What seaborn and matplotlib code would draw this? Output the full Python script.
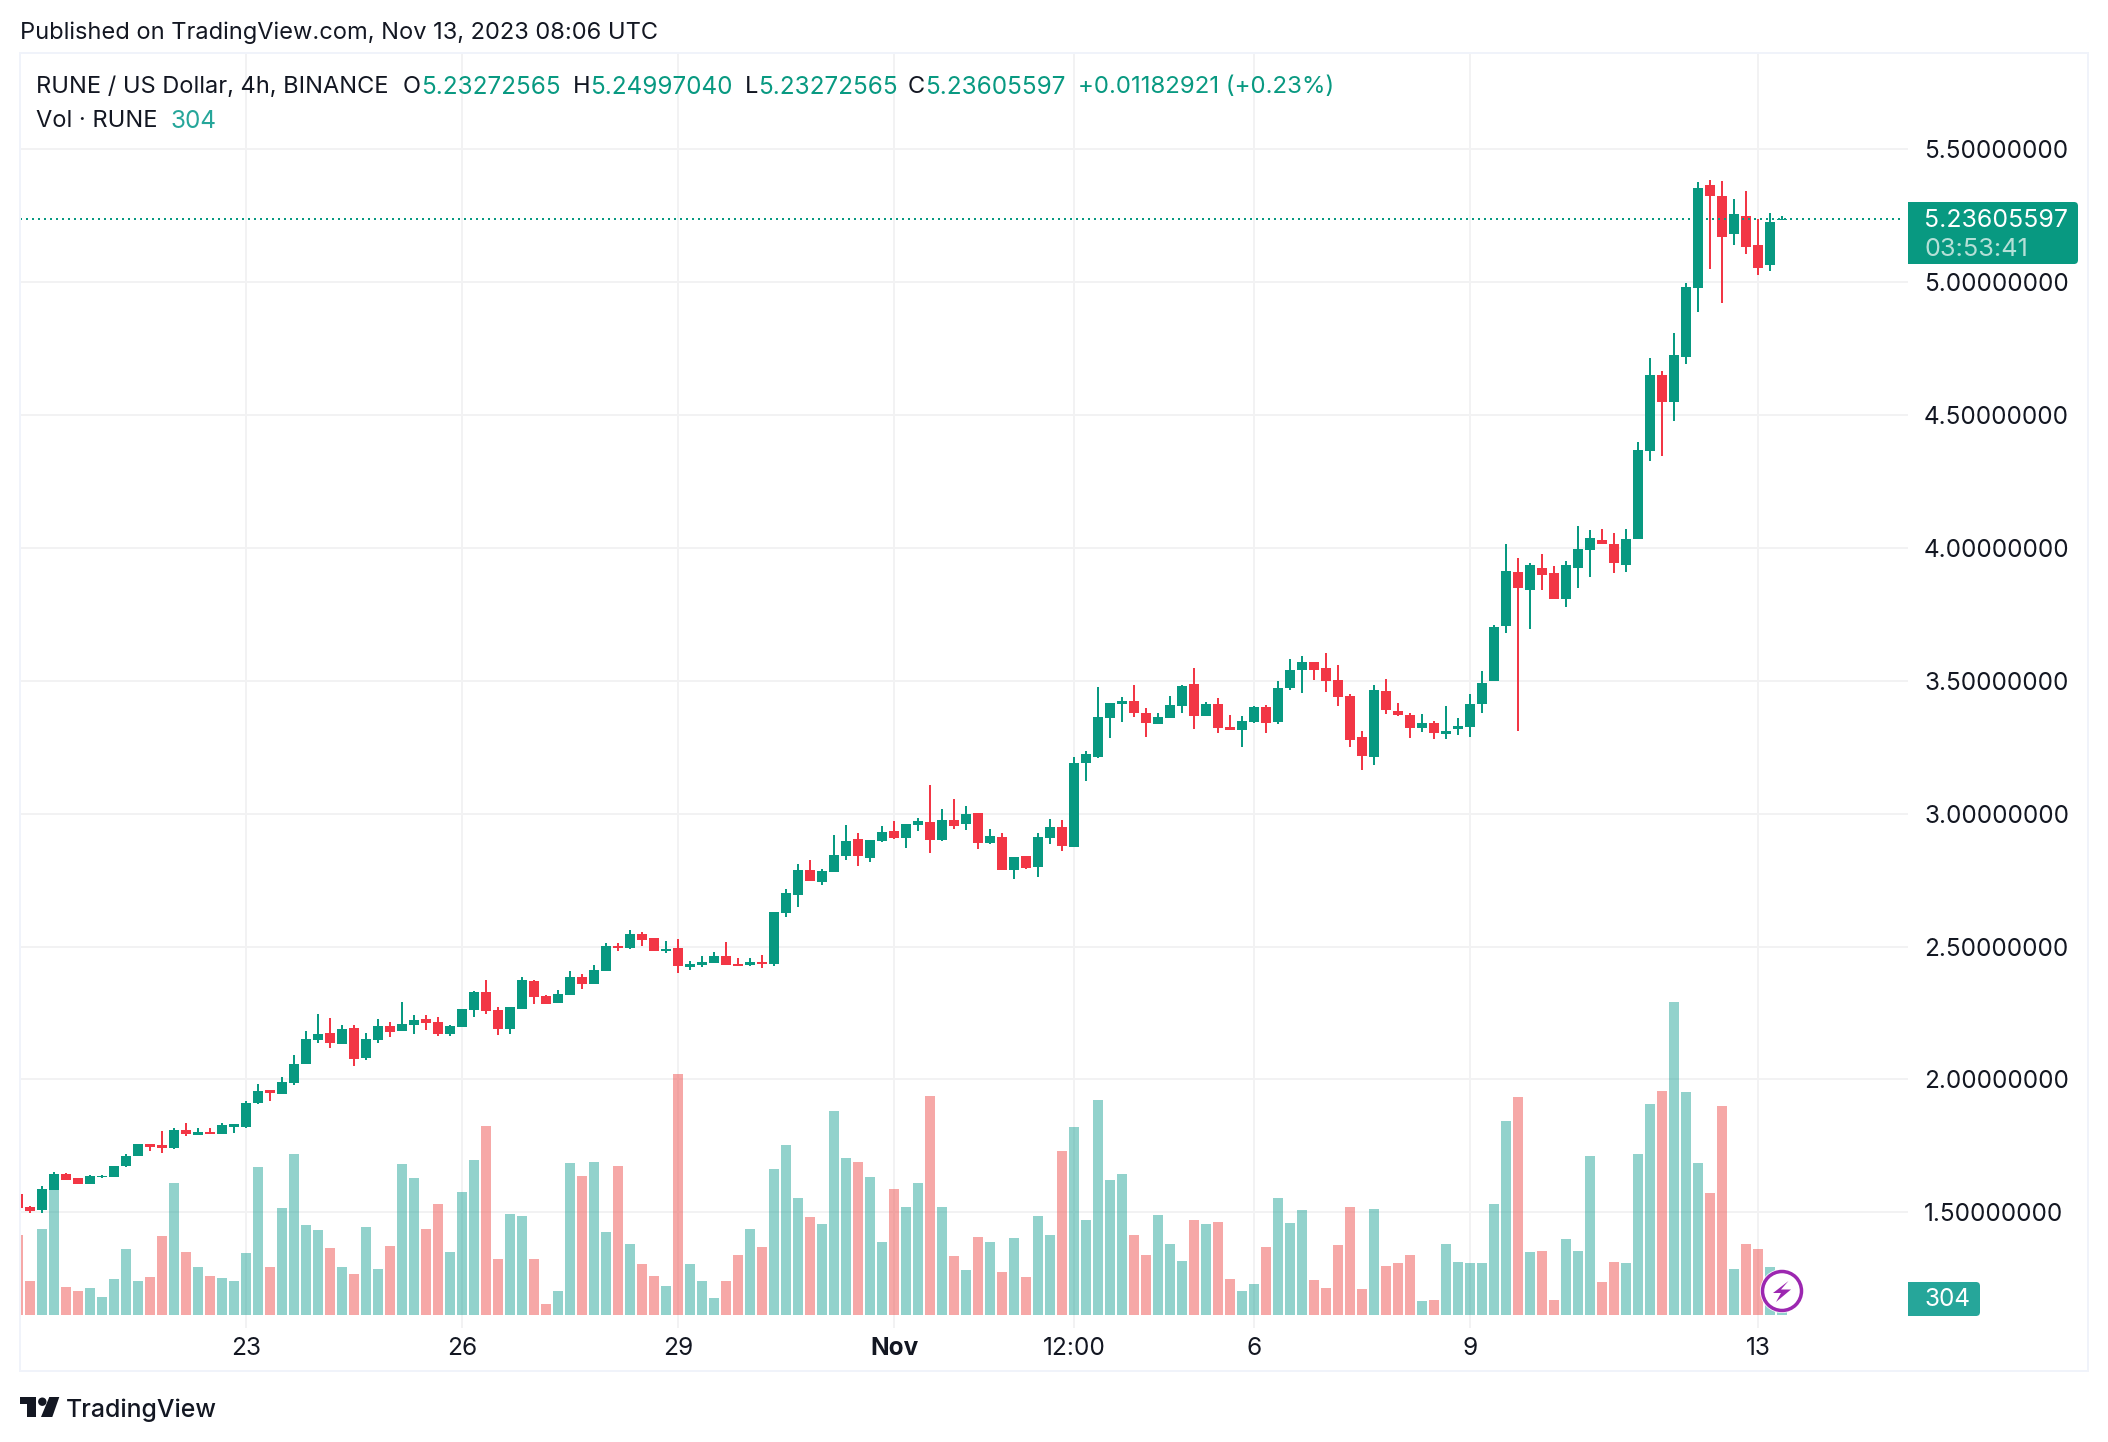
import matplotlib
matplotlib.use("Agg")
import pandas as pd
import seaborn as sns
import matplotlib.pyplot as plt
from matplotlib.patches import FancyBboxPatch, Rectangle, Polygon, Circle

W, H = 2108, 1442
GREEN = "#089981"
RED = "#f23645"
VOL_GREEN = "#26a69a"
VOL_RED = "#ef5350"
GRID = "#f2f2f3"
FRAME = "#f0f3fa"
INK = "#131722"
PX = 72 / 100  # one pixel in points at dpi 100
FS = 17.0
FS_NUM = 17.5

# 4h candles, oldest first
opens = [1.569, 1.520, 1.508, 1.584, 1.644, 1.629, 1.606, 1.631, 1.633, 1.674,
         1.712, 1.757, 1.754, 1.742, 1.810, 1.791, 1.802, 1.795, 1.821, 1.821,
         1.912, 1.961, 1.946, 1.987, 2.058, 2.149, 2.175, 2.133, 2.194, 2.081,
         2.149, 2.201, 2.182, 2.205, 2.228, 2.216, 2.171, 2.197, 2.261, 2.329,
         2.261, 2.190, 2.265, 2.370, 2.314, 2.288, 2.318, 2.386, 2.359, 2.408,
         2.502, 2.495, 2.547, 2.532, 2.483, 2.495, 2.423, 2.431, 2.438, 2.465,
         2.434, 2.431, 2.442, 2.434, 2.626, 2.694, 2.788, 2.743, 2.781, 2.841,
         2.905, 2.833, 2.897, 2.935, 2.908, 2.957, 2.969, 2.901, 2.976, 2.961,
         3.002, 2.890, 2.912, 2.788, 2.841, 2.799, 2.908, 2.950, 2.875, 3.190,
         3.213, 3.360, 3.412, 3.424, 3.379, 3.337, 3.360, 3.405, 3.488, 3.367,
         3.412, 3.326, 3.314, 3.345, 3.401, 3.345, 3.473, 3.540, 3.570, 3.548,
         3.503, 3.443, 3.288, 3.213, 3.461, 3.386, 3.371, 3.322, 3.341, 3.299,
         3.318, 3.326, 3.412, 3.499, 3.706, 3.909, 3.841, 3.924, 3.905, 3.807,
         3.924, 3.992, 4.030, 4.014, 3.935, 4.033, 4.364, 4.650, 4.549, 4.718,
         4.977, 5.365, 5.324, 5.181, 5.248, 5.139, 5.064, 5.23272565]
highs = [1.569, 1.523, 1.599, 1.651, 1.648, 1.629, 1.640, 1.640, 1.674, 1.720,
         1.757, 1.757, 1.806, 1.817, 1.836, 1.817, 1.817, 1.836, 1.834, 1.919,
         1.983, 1.961, 2.009, 2.092, 2.182, 2.246, 2.231, 2.205, 2.205, 2.175,
         2.228, 2.216, 2.291, 2.243, 2.243, 2.235, 2.205, 2.265, 2.333, 2.374,
         2.273, 2.273, 2.386, 2.374, 2.318, 2.337, 2.408, 2.397, 2.431, 2.513,
         2.513, 2.562, 2.555, 2.532, 2.521, 2.528, 2.445, 2.465, 2.480, 2.517,
         2.457, 2.457, 2.468, 2.630, 2.716, 2.811, 2.826, 2.792, 2.920, 2.957,
         2.927, 2.901, 2.954, 2.973, 2.961, 2.984, 3.108, 3.017, 3.055, 3.029,
         3.002, 2.942, 2.927, 2.837, 2.841, 2.927, 2.980, 2.976, 3.213, 3.235,
         3.476, 3.416, 3.439, 3.484, 3.397, 3.379, 3.443, 3.484, 3.548, 3.420,
         3.435, 3.371, 3.367, 3.405, 3.409, 3.499, 3.581, 3.593, 3.570, 3.604,
         3.559, 3.450, 3.311, 3.484, 3.506, 3.416, 3.379, 3.375, 3.348, 3.405,
         3.360, 3.450, 3.536, 3.710, 4.014, 3.962, 3.943, 3.977, 3.932, 3.950,
         4.082, 4.067, 4.071, 4.056, 4.071, 4.398, 4.714, 4.665, 4.808, 4.996,
         5.376, 5.384, 5.380, 5.312, 5.343, 5.237, 5.259, 5.24997040]
lows = [1.516, 1.497, 1.497, 1.584, 1.621, 1.606, 1.606, 1.629, 1.633, 1.670,
        1.712, 1.731, 1.723, 1.738, 1.787, 1.791, 1.795, 1.795, 1.799, 1.817,
        1.908, 1.919, 1.946, 1.979, 2.058, 2.137, 2.118, 2.133, 2.051, 2.073,
        2.137, 2.160, 2.182, 2.171, 2.186, 2.164, 2.164, 2.197, 2.235, 2.246,
        2.167, 2.171, 2.265, 2.284, 2.284, 2.288, 2.318, 2.340, 2.359, 2.408,
        2.483, 2.491, 2.502, 2.483, 2.476, 2.401, 2.412, 2.423, 2.438, 2.431,
        2.427, 2.427, 2.419, 2.427, 2.611, 2.649, 2.747, 2.732, 2.781, 2.826,
        2.803, 2.818, 2.894, 2.905, 2.871, 2.935, 2.852, 2.897, 2.942, 2.938,
        2.867, 2.886, 2.788, 2.754, 2.792, 2.762, 2.886, 2.860, 2.875, 3.123,
        3.209, 3.285, 3.345, 3.363, 3.288, 3.337, 3.360, 3.379, 3.318, 3.367,
        3.303, 3.314, 3.250, 3.341, 3.303, 3.337, 3.465, 3.454, 3.503, 3.458,
        3.405, 3.250, 3.164, 3.183, 3.375, 3.367, 3.285, 3.307, 3.281, 3.281,
        3.296, 3.288, 3.379, 3.499, 3.680, 3.311, 3.695, 3.841, 3.807, 3.777,
        3.849, 3.890, 4.014, 3.905, 3.909, 4.033, 4.327, 4.345, 4.477, 4.692,
        4.887, 5.049, 4.921, 5.139, 5.105, 5.026, 5.041, 5.23272565]
closes = [1.516, 1.505, 1.587, 1.644, 1.621, 1.606, 1.636, 1.637, 1.674, 1.712,
          1.757, 1.746, 1.742, 1.810, 1.795, 1.802, 1.795, 1.829, 1.832, 1.912,
          1.957, 1.949, 1.991, 2.058, 2.152, 2.171, 2.137, 2.190, 2.077, 2.152,
          2.201, 2.179, 2.209, 2.224, 2.212, 2.171, 2.201, 2.265, 2.329, 2.258,
          2.190, 2.273, 2.374, 2.310, 2.284, 2.322, 2.386, 2.359, 2.412, 2.502,
          2.495, 2.547, 2.525, 2.483, 2.491, 2.427, 2.434, 2.442, 2.465, 2.431,
          2.427, 2.442, 2.434, 2.630, 2.701, 2.788, 2.747, 2.784, 2.844, 2.897,
          2.841, 2.901, 2.931, 2.908, 2.961, 2.973, 2.901, 2.976, 2.954, 2.999,
          2.890, 2.916, 2.788, 2.837, 2.796, 2.912, 2.950, 2.879, 3.190, 3.224,
          3.363, 3.416, 3.424, 3.379, 3.341, 3.363, 3.409, 3.480, 3.367, 3.412,
          3.322, 3.314, 3.348, 3.401, 3.341, 3.473, 3.540, 3.570, 3.540, 3.499,
          3.439, 3.277, 3.217, 3.465, 3.390, 3.371, 3.322, 3.341, 3.303, 3.311,
          3.330, 3.412, 3.492, 3.702, 3.913, 3.849, 3.935, 3.898, 3.807, 3.935,
          3.996, 4.037, 4.014, 3.943, 4.033, 4.368, 4.650, 4.549, 4.726, 4.981,
          5.354, 5.324, 5.170, 5.256, 5.132, 5.053, 5.226, 5.23605597]
# volume on its own scale, the picture has no axis for it
volumes = [80, 34, 86, 125, 28, 24, 27, 18, 36, 66,
           34, 38, 79, 132, 63, 48, 39, 37, 34, 62,
           148, 48, 107, 161, 90, 85, 67, 48, 41, 88,
           46, 69, 151, 137, 86, 111, 63, 123, 155, 189,
           56, 101, 99, 56, 11, 24, 152, 139, 153, 83,
           149, 71, 51, 39, 29, 241, 51, 34, 17, 34,
           60, 86, 68, 146, 170, 117, 98, 91, 204, 157,
           153, 138, 73, 126, 108, 132, 219, 108, 59, 45,
           78, 73, 43, 77, 38, 99, 80, 164, 188, 95,
           215, 135, 141, 80, 60, 100, 71, 54, 95, 91,
           93, 36, 24, 31, 68, 117, 92, 105, 35, 27,
           70, 108, 26, 106, 49, 52, 60, 14, 15, 71,
           53, 52, 52, 111, 194, 218, 63, 64, 15, 76,
           64, 159, 33, 53, 52, 161, 211, 224, 313, 223,
           152, 122, 209, 46, 71, 66, 48, 5]

price_ticks = [1.5, 2.0, 2.5, 3.0, 3.5, 4.0, 4.5, 5.0, 5.5]
time_ticks = [19, 37, 55, 73, 88, 103, 121, 145]
time_labels = ["23", "26", "29", "Nov", "12:00", "6", "9", "13"]

sns.set_theme(style="white")
plt.rcParams["font.family"] = ["Inter", "DejaVu Sans"]

df = pd.DataFrame({"bar": range(len(closes)), "open": opens, "high": highs,
                   "low": lows, "close": closes, "volume": volumes})
df["side"] = ["up" if c >= o else "down" for o, c in zip(df["open"], df["close"])]
df["color"] = df["side"].map({"up": GREEN, "down": RED})

fig = plt.figure(figsize=(W / 100, H / 100), dpi=100, facecolor="white")
ax = fig.add_axes([20 / W, 1 - 1328 / H, 1888 / W, 1275 / H])
ax.set_xlim(1 / 6, 157.5)
ax.set_ylim(1.0647, 5.8616)
for s in ax.spines.values():
    s.set_visible(False)

# grid
ax.set_axisbelow(True)
ax.grid(True, color=GRID, lw=2 * PX)

# candles
ax.vlines(df["bar"], df["low"], df["high"], colors=df["color"], lw=2 * PX, zorder=2)
ax.bar(df["bar"], (df["close"] - df["open"]).abs(), bottom=df[["open", "close"]].min(axis=1),
       width=10 / 12, color=df["color"], lw=0, zorder=3)
ax.axhline(closes[-1], color=GREEN, lw=2 * PX, ls=(0, (1, 2)), zorder=4)

# volume
ax_vol = ax.twinx()
sns.barplot(data=df, x="bar", y="volume", hue="side", native_scale=True, dodge=False,
            palette={"up": VOL_GREEN, "down": VOL_RED}, saturation=1, alpha=0.5,
            width=10 / 12, linewidth=0, errorbar=None, legend=False, ax=ax_vol)
ax_vol.set_ylim(-13, 1262)
ax_vol.set_yticks([])
ax_vol.set_ylabel("")
ax_vol.set_xlabel("")
for s in ax_vol.spines.values():
    s.set_visible(False)

ax.set_xlim(1 / 6, 157.5)
ax.set_xticks(time_ticks, time_labels)
ax.set_yticks(price_ticks, [f"{p:.8f}" for p in price_ticks])
ax.yaxis.tick_right()
ax.tick_params(axis="y", length=0, pad=16 * PX, labelsize=17.5, labelcolor=INK)
ax.tick_params(axis="x", length=0, pad=9 * PX, labelsize=17.6, labelcolor=INK)
ax.get_xticklabels()[3].set_fontweight("bold")

# page furniture, placed in pixels
ov = fig.add_axes([0, 0, 1, 1], facecolor="none", zorder=10)
ov.set_xlim(0, W)
ov.set_ylim(H, 0)
ov.axis("off")

ov.add_patch(Rectangle((20, 53), 2068, 1318, fill=False, ec=FRAME, lw=2 * PX))


def label(x, y, s, color=INK, size=FS, **kw):
    ov.text(x, y, s, color=color, fontsize=size, va="center", ha="left", **kw)


label(20, 33, "Published on TradingView.com, Nov 13, 2023 08:06 UTC")
label(36, 87, "RUNE / US Dollar, 4h, BINANCE")
for x, s in [(403, "O"), (573, "H"), (745, "L"), (908, "C")]:
    label(x, 87, s)
for x, s in [(421, "5.23272565"), (590, "5.24997040"), (758, "5.23272565"),
             (925, "5.23605597")]:
    label(x, 87, s, color=GREEN, size=FS_NUM)
label(1078, 87, "+0.01182921 (+0.23%)", color=GREEN, size=17.3)
label(36, 121, "Vol · RUNE")
label(171, 121, "304", color=VOL_GREEN, size=FS_NUM)

# last price and volume tags
ov.add_patch(FancyBboxPatch((1904, 202), 174, 62, boxstyle="round,pad=0,rounding_size=4", fc=GREEN, lw=0))
ov.add_patch(Rectangle((1908, 202), 8, 62, fc=GREEN, lw=0))
ov.add_patch(Rectangle((1904, 195), 4, 76, fc="white", lw=0))
label(1924, 220.5, "5.23605597", color="white", size=17.9)
label(1924, 249, "03:53:41", color="#b5e0d7", size=18.2)
ov.add_patch(FancyBboxPatch((1904, 1282), 76, 34, boxstyle="round,pad=0,rounding_size=4", fc=VOL_GREEN, lw=0))
ov.add_patch(Rectangle((1904, 1278), 4, 42, fc="white", lw=0))
label(1925, 1300, "304", color="white", size=FS_NUM)

# bolt badge
ov.add_patch(Circle((1782, 1291), 22, fc="white", lw=0))
ov.add_patch(Circle((1782, 1291), 19.5, fc="white", ec="#9c27b0", lw=3.5 * PX))
ov.add_patch(Polygon([(1788.5, 1281), (1781, 1289.5), (1791, 1289.5), (1776, 1302),
                      (1781, 1293), (1773, 1293)], fc="#9c27b0", lw=0))

# logo
ov.add_patch(Polygon([(20, 1397), (36, 1397), (36, 1417), (27, 1417), (27, 1404), (20, 1404)], fc=INK, lw=0))
ov.add_patch(Circle((42.3, 1401.7), 4.2, fc=INK, lw=0))
ov.add_patch(Polygon([(59.3, 1397), (52.3, 1417), (41, 1417), (49.3, 1397)], fc=INK, lw=0))
label(66, 1410, "TradingView", size=17.9, fontweight="medium")

fig.savefig("out.png", dpi=100, facecolor="white")
